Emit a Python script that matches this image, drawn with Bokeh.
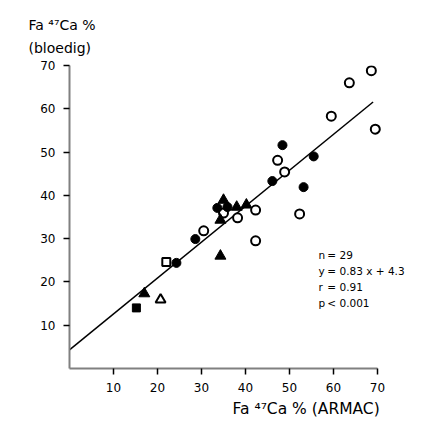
from bokeh.plotting import figure
from bokeh.models import Range1d, FixedTicker, Label, Title
from bokeh.embed import file_html
from bokeh.resources import INLINE

# --- data ---
open_circle_x = [68.6, 63.6, 59.5, 69.5, 47.3, 48.9, 52.3, 42.3, 42.3, 38.2, 35.0, 30.5]
open_circle_y = [68.8, 66.0, 58.3, 55.3, 48.1, 45.4, 35.7, 36.6, 29.5, 34.8, 35.9, 31.8]
open_square_x = [22.0]
open_square_y = [24.6]
open_triangle_x = [20.7]
open_triangle_y = [15.9]
filled_circle_x = [48.4, 55.5, 46.1, 53.2, 28.6, 24.3, 33.6, 35.9]
filled_circle_y = [51.6, 49.0, 43.3, 41.9, 29.9, 24.4, 37.1, 37.3]
filled_triangle_x = [35.0, 38.0, 40.2, 34.3, 34.3, 17.0]
filled_triangle_y = [38.9, 37.3, 37.8, 34.3, 26.0, 17.3]
filled_square_x = [15.2]
filled_square_y = [14.0]

slope = 0.83
intercept = 4.3
fit_x = [0, 69]
fit_y = [intercept + slope * v for v in fit_x]

ticks = [10, 20, 30, 40, 50, 60, 70]
stats_names = ["n", "y", "r", "p"]
stats_values = ["= 29", "= 0.83  x + 4.3", "= 0.91", "< 0.001"]
y_title = "Fa \u2074\u2077Ca %\n(bloedig)"
x_title = "Fa \u2074\u2077Ca % (ARMAC)"

FONT = "DejaVu Sans"

p = figure(width=427, height=420, output_backend="svg", toolbar_location=None,
           x_range=Range1d(0, 80), y_range=Range1d(0, 70),
           min_border_left=69, min_border_right=6, min_border_top=65, min_border_bottom=51)
p.outline_line_color = None
p.xgrid.grid_line_color = None
p.ygrid.grid_line_color = None
p.background_fill_color = "white"

for ax in (p.xaxis[0], p.yaxis[0]):
    ax.ticker = FixedTicker(ticks=ticks)
    ax.bounds = (0, 70)
    ax.axis_line_color = "#808080"
    ax.axis_line_width = 2
    ax.major_tick_line_color = "black"
    ax.major_tick_line_width = 1.5
    ax.major_tick_out = 6
    ax.major_tick_in = 0
    ax.minor_tick_line_color = None
    ax.major_label_text_font = FONT
    ax.major_label_text_font_size = "12px"
    ax.major_label_text_color = "black"
    ax.major_label_standoff = 8

p.line(fit_x, fit_y, line_color="black", line_width=1.5)

p.scatter(open_circle_x, open_circle_y, marker="circle", size=9, fill_color="white",
          line_color="black", line_width=2)
p.scatter(open_square_x, open_square_y, marker="square", size=8, fill_color="white",
          line_color="black", line_width=2)
p.scatter(open_triangle_x, open_triangle_y, marker="triangle", size=10, fill_color="white",
          line_color="black", line_width=2)
p.scatter(filled_circle_x, filled_circle_y, marker="circle", size=9, fill_color="black",
          line_color="black")
p.scatter(filled_triangle_x, filled_triangle_y, marker="triangle", size=11, fill_color="black",
          line_color="black")
p.scatter(filled_square_x, filled_square_y, marker="square", size=8, fill_color="black",
          line_color="black")

# titles as layout titles (not clipped by the frame)
p.add_layout(Title(text=y_title, align="left", offset=-41, text_font=FONT,
                   text_font_size="14px", text_font_style="normal", text_line_height=1.47,
                   text_color="black", standoff=18), "above")
p.add_layout(Title(text=x_title, align="left", offset=163, text_font=FONT,
                   text_font_size="15.5px", text_font_style="normal", text_color="black",
                   standoff=6), "below")

# statistics block
stat_y = [26.2, 22.6, 18.9, 15.2]
for name, val, yy in zip(stats_names, stats_values, stat_y):
    p.add_layout(Label(x=56.6, y=yy, text=name, text_font=FONT, text_font_size="10.5px",
                       text_baseline="middle", text_align="left", text_color="black"))
    p.add_layout(Label(x=58.6, y=yy, text=val, text_font=FONT, text_font_size="10.5px",
                       text_baseline="middle", text_align="left", text_color="black"))

open("out.html", "w").write(file_html(p, INLINE))
